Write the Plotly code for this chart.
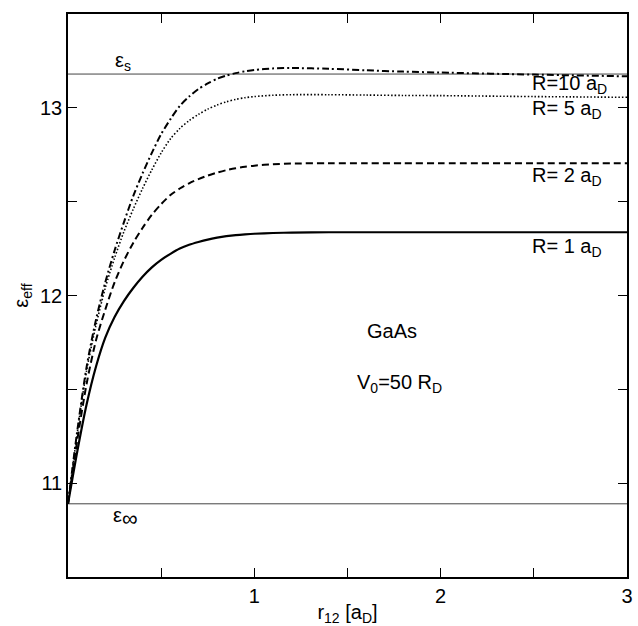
import plotly.graph_objects as go

# ---- data ----
r12 = [0.0, 0.05, 0.1, 0.15, 0.2, 0.25, 0.3, 0.35, 0.4, 0.45, 0.5,
       0.55, 0.6, 0.65, 0.7, 0.75, 0.8, 0.85, 0.9, 0.95, 1.0,
       1.1, 1.2, 1.4, 1.6, 1.8, 2.0, 2.5, 3.0]

eps_R1 = [10.89, 11.17, 11.42, 11.62, 11.775, 11.885, 11.97, 12.04, 12.10, 12.15, 12.19,
          12.222, 12.25, 12.27, 12.285, 12.298, 12.308, 12.316, 12.322, 12.326, 12.329,
          12.333, 12.335, 12.337, 12.337, 12.337, 12.337, 12.337, 12.337]
eps_R2 = [10.89, 11.23, 11.53, 11.76, 11.925, 12.07, 12.185, 12.28, 12.36, 12.43, 12.487,
          12.535, 12.57, 12.598, 12.62, 12.639, 12.655, 12.668, 12.678, 12.686, 12.692,
          12.699, 12.703, 12.705, 12.705, 12.705, 12.705, 12.705, 12.705]
eps_R5 = [10.89, 11.27, 11.60, 11.84, 12.04, 12.20, 12.34, 12.46, 12.57, 12.67, 12.76,
          12.835, 12.89, 12.932, 12.965, 12.993, 13.015, 13.032, 13.045, 13.054, 13.06,
          13.067, 13.07, 13.07, 13.068, 13.066, 13.065, 13.06, 13.056]
eps_R10 = [10.89, 11.28, 11.62, 11.87, 12.07, 12.24, 12.39, 12.53, 12.65, 12.76, 12.86,
           12.94, 13.01, 13.06, 13.10, 13.13, 13.155, 13.172, 13.185, 13.195, 13.202,
           13.21, 13.212, 13.208, 13.20, 13.193, 13.188, 13.177, 13.168]

EPS_S = 13.18
EPS_INF = 10.89
x_limits = [0.0, 3.0]
y_limits = [10.5, 13.5]

x_tickvals = [1.0, 2.0, 3.0]
x_minor_vals = [0.5, 1.5, 2.5]
y_tickvals = [11.0, 12.0, 13.0]
y_minor_vals = [11.5, 12.5]

series_labels = ["R=10 a<sub>D</sub>", "R= 5 a<sub>D</sub>", "R= 2 a<sub>D</sub>", "R= 1 a<sub>D</sub>"]
series_label_y = [13.125, 12.99, 12.634, 12.257]

FONT = "Liberation Sans, Arial, sans-serif"

fig = go.Figure()

# reference lines eps_s and eps_inf
fig.add_trace(go.Scatter(x=x_limits, y=[EPS_S, EPS_S], mode="lines",
                         line=dict(color="#444444", width=1), showlegend=False))
fig.add_trace(go.Scatter(x=x_limits, y=[EPS_INF, EPS_INF], mode="lines",
                         line=dict(color="#444444", width=1), showlegend=False))

fig.add_trace(go.Scatter(x=r12, y=eps_R1, mode="lines", line_shape="spline",
                         line=dict(color="black", width=2.2, smoothing=0.8), showlegend=False))
fig.add_trace(go.Scatter(x=r12, y=eps_R2, mode="lines", line_shape="spline",
                         line=dict(color="black", width=2, dash="7px,4px", smoothing=0.8), showlegend=False))
fig.add_trace(go.Scatter(x=r12, y=eps_R5, mode="lines", line_shape="spline",
                         line=dict(color="black", width=1.6, dash="1.5px,2px", smoothing=0.8), showlegend=False))
fig.add_trace(go.Scatter(x=r12, y=eps_R10, mode="lines", line_shape="spline",
                         line=dict(color="black", width=2, dash="7px,3px,2px,3px", smoothing=0.8), showlegend=False))

annotations = []
for txt, yy in zip(series_labels, series_label_y):
    annotations.append(dict(x=2.48, y=yy, xref="x", yref="y", text=txt, showarrow=False,
                            xanchor="left", yanchor="middle",
                            font=dict(family=FONT, size=20, color="black")))

annotations += [
    dict(x=0.295, y=13.245, xref="x", yref="y", text="ε<sub>s</sub>", showarrow=False,
         xanchor="center", yanchor="middle", font=dict(family=FONT, size=20, color="black")),
    dict(x=0.31, y=10.815, xref="x", yref="y",
         text="ε<sub><span style=\"font-size:22px\">∞</span></sub>", showarrow=False,
         xanchor="center", yanchor="middle", font=dict(family=FONT, size=20, color="black")),
    dict(x=1.74, y=11.81, xref="x", yref="y", text="GaAs", showarrow=False,
         xanchor="center", yanchor="middle", font=dict(family=FONT, size=20, color="black")),
    dict(x=1.78, y=11.53, xref="x", yref="y", text="V<sub>0</sub>=50 R<sub>D</sub>", showarrow=False,
         xanchor="center", yanchor="middle", font=dict(family=FONT, size=20, color="black")),
]

fig.update_layout(
    width=638, height=626,
    margin=dict(l=68, r=5, t=14, b=47),
    paper_bgcolor="white", plot_bgcolor="white",
    font=dict(family=FONT, size=20, color="black"),
    annotations=annotations,
    xaxis=dict(range=x_limits, tickmode="array", tickvals=x_tickvals,
               ticks="inside", ticklen=9, tickwidth=1.3, tickcolor="black",
               minor=dict(tickmode="array", tickvals=x_minor_vals, ticks="inside",
                          ticklen=9, tickwidth=1.3, tickcolor="black", showgrid=False),
               showline=True, linecolor="black", linewidth=1.5, mirror="ticks",
               showgrid=False, zeroline=False,
               title=dict(text="r<sub>12</sub> [a<sub>D</sub>]", standoff=0,
                          font=dict(family=FONT, size=20)),
               tickfont=dict(family=FONT, size=20)),
    yaxis=dict(range=y_limits, tickmode="array", tickvals=y_tickvals,
               ticks="inside", ticklen=9, tickwidth=1.3, tickcolor="black",
               minor=dict(tickmode="array", tickvals=y_minor_vals, ticks="inside",
                          ticklen=9, tickwidth=1.3, tickcolor="black", showgrid=False),
               showline=True, linecolor="black", linewidth=1.5, mirror="ticks",
               showgrid=False, zeroline=False,
               title=dict(text="ε<sub>eff</sub>", standoff=6,
                          font=dict(family=FONT, size=20)),
               tickfont=dict(family=FONT, size=20)),
)

fig.write_html("out.html")
